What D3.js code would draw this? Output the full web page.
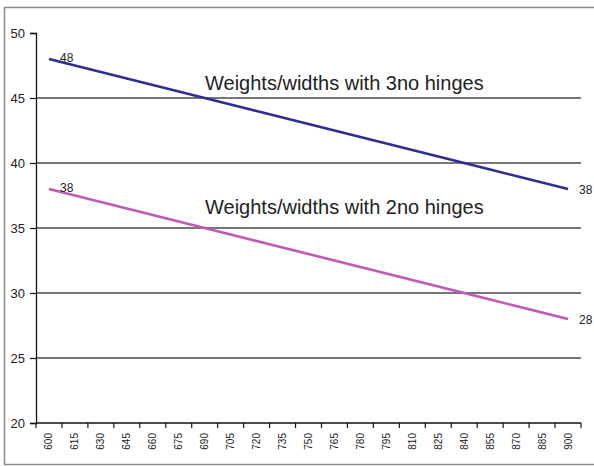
<!DOCTYPE html>
<html>
<head>
<meta charset="utf-8">
<script src="https://cdn.jsdelivr.net/npm/d3@7"></script>
<style>
  body { margin: 0; background: #fff; }
  text { font-family: "Liberation Sans", Arial, sans-serif; fill: #222; }
</style>
</head>
<body>
<div id="chart"></div>
<script>
// Chart data
var widths = [600, 615, 630, 645, 660, 675, 690, 705, 720, 735, 750,
              765, 780, 795, 810, 825, 840, 855, 870, 885, 900];
var hinges3 = [48, 47.5, 47, 46.5, 46, 45.5, 45, 44.5, 44, 43.5, 43,
               42.5, 42, 41.5, 41, 40.5, 40, 39.5, 39, 38.5, 38];
var hinges2 = [38, 37.5, 37, 36.5, 36, 35.5, 35, 34.5, 34, 33.5, 33,
               32.5, 32, 31.5, 31, 30.5, 30, 29.5, 29, 28.5, 28];
var yTicks = [20, 25, 30, 35, 40, 45, 50];
var gridValues = [25, 30, 35, 40, 45];

var svgWidth = 594;
var svgHeight = 466;
var margin = { top: 33, right: 13, bottom: 43, left: 36 };
var width = svgWidth - margin.left - margin.right;
var height = svgHeight - margin.top - margin.bottom;

var svg = d3.select("#chart")
  .append("svg")
  .attr("width", svgWidth)
  .attr("height", svgHeight);

// outer frame (right edge falls outside the picture)
svg.append("rect")
  .attr("x", 4.5).attr("y", 7.5)
  .attr("width", 620).attr("height", 457)
  .attr("fill", "none")
  .attr("stroke", "#8a8a8a")
  .attr("stroke-width", 1.5);

var chart = svg.append("g")
  .attr("transform", "translate(" + margin.left + "," + margin.top + ")");

var x = d3.scaleBand().domain(widths).range([0, width]).padding(0);
var y = d3.scaleLinear().domain([20, 50]).range([height, 0]);

// gridlines
chart.selectAll(".grid")
  .data(gridValues)
  .enter()
  .append("line")
  .attr("class", "grid")
  .attr("x1", 0).attr("x2", width)
  .attr("y1", function(d) { return y(d); })
  .attr("y2", function(d) { return y(d); })
  .attr("stroke", "#4a4a4a")
  .attr("stroke-width", 1.4);

// y axis
var leftAxis = d3.axisLeft(y).tickValues(yTicks).tickSize(6).tickPadding(5);
var gy = chart.append("g").call(leftAxis);
gy.select(".domain").attr("stroke", "#111").attr("stroke-width", 1.3);
gy.selectAll(".tick line").attr("stroke", "#111").attr("stroke-width", 1.2);
gy.selectAll("text").style("font-size", "13px").attr("fill", "#222");

// x axis: ticks between categories
var gx = chart.append("g").attr("transform", "translate(0," + height + ")");
gx.append("line")
  .attr("x1", 0).attr("x2", width)
  .attr("stroke", "#111").attr("stroke-width", 1.3);
var bounds = widths.map(function(d) { return x(d); }).concat([width]);
gx.selectAll(".xtick")
  .data(bounds)
  .enter()
  .append("line")
  .attr("x1", function(d) { return d; })
  .attr("x2", function(d) { return d; })
  .attr("y1", 0).attr("y2", 5)
  .attr("stroke", "#111").attr("stroke-width", 1.2);
gx.selectAll(".xlabel")
  .data(widths)
  .enter()
  .append("text")
  .attr("transform", function(d) {
    return "translate(" + (x(d) + x.bandwidth() / 2 + 3.5) + ",10) rotate(-90)";
  })
  .attr("text-anchor", "end")
  .style("font-size", "10px")
  .text(function(d) { return d; });

// lines
var line = d3.line()
  .x(function(d, i) { return x(widths[i]) + x.bandwidth() / 2; })
  .y(function(d) { return y(d); });

var series = [
  { values: hinges3, color: "#2e2f8e", label: "Weights/widths with 3no hinges", labelAt: 45.7 },
  { values: hinges2, color: "#c257b8", label: "Weights/widths with 2no hinges", labelAt: 36.15 }
];

series.forEach(function(s) {
  chart.append("path")
    .datum(s.values)
    .attr("d", line)
    .attr("fill", "none")
    .attr("stroke", s.color)
    .attr("stroke-width", 2.6);

  var first = s.values[0];
  var last = s.values[s.values.length - 1];
  chart.append("text")
    .attr("x", x(widths[0]) + x.bandwidth() / 2 + 11)
    .attr("y", y(first) + 3)
    .style("font-size", "12px")
    .text(first);
  chart.append("text")
    .attr("x", x(widths[widths.length - 1]) + x.bandwidth() / 2 + 11)
    .attr("y", y(last) + 5)
    .style("font-size", "12px")
    .text(last);

  chart.append("text")
    .attr("x", 169)
    .attr("y", y(s.labelAt) + 1)
    .style("font-size", "20px")
    .attr("fill", "#333")
    .text(s.label);
});
</script>
</body>
</html>
